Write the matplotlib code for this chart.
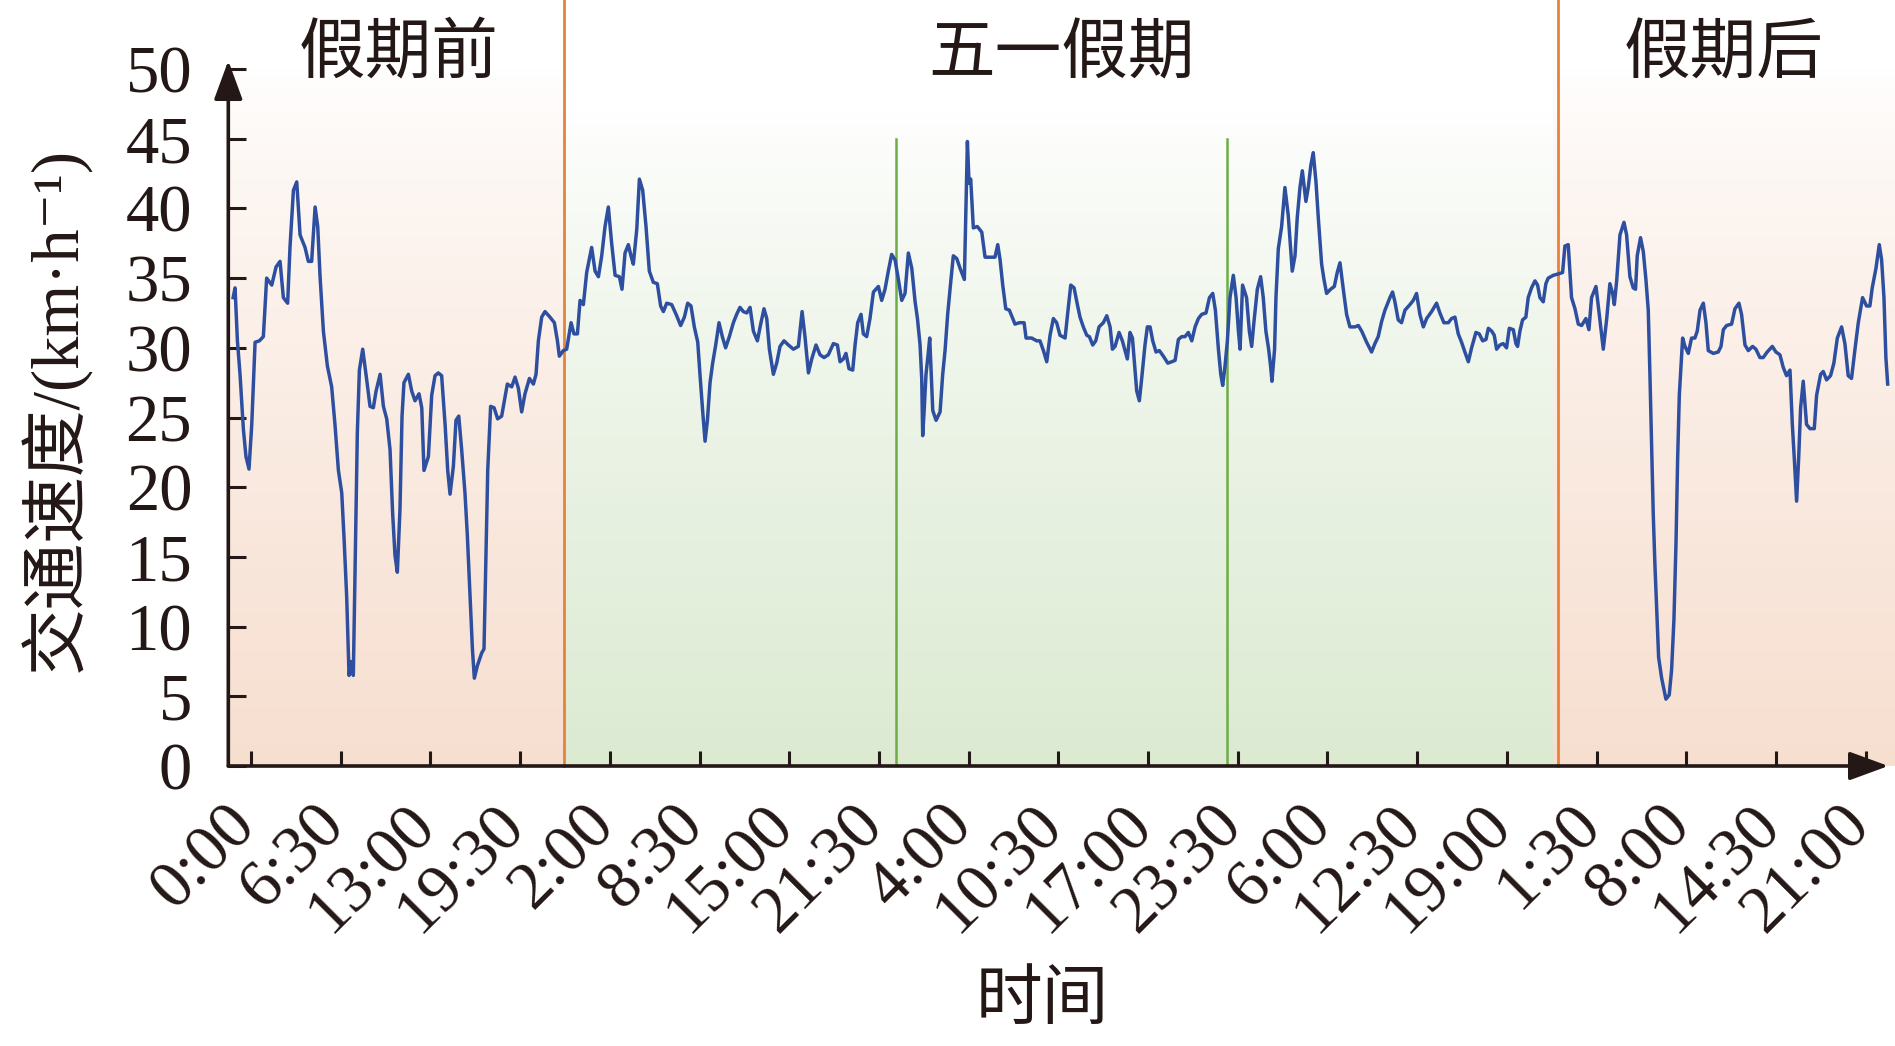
import numpy as np
import matplotlib
matplotlib.use("Agg")
import matplotlib.pyplot as plt
from matplotlib import transforms
from matplotlib.colors import to_rgb

plt.rcParams['font.family'] = ['Liberation Serif', 'Noto Sans CJK SC', 'DejaVu Sans']

# 读图得到的折线顶点（小时, km/h）
hours = [
    0.00, 0.14, 0.31, 0.50, 0.74, 0.93, 1.15, 1.35, 1.59, 1.90, 2.19, 2.43, 2.80, 3.11, 3.40, 3.64,
    3.95, 4.12, 4.37, 4.61, 4.85, 5.21, 5.45, 5.69, 5.94, 6.13, 6.30, 6.54, 6.83, 7.14, 7.38, 7.63,
    7.87, 8.04, 8.23, 8.40, 8.54, 8.71, 8.83, 9.00, 9.15, 9.39, 9.68, 9.92, 10.16, 10.36, 10.65, 10.89,
    11.13, 11.37, 11.56, 11.73, 11.90, 12.09, 12.24, 12.38, 12.70, 12.94, 13.18, 13.47, 13.67, 13.83,
    14.15, 14.39, 14.63, 14.87, 15.11, 15.36, 15.55, 15.72, 15.96, 16.15, 16.35, 16.56, 16.80, 16.97,
    17.17, 17.34, 17.48, 17.70, 18.01, 18.18, 18.30, 18.45, 18.66, 18.91, 19.17, 19.46, 19.87, 20.19,
    20.43, 20.67, 20.91, 21.15, 21.47, 21.76, 21.95, 22.12, 22.36, 22.60, 22.96, 23.28, 23.50, 23.64,
    23.93,
    24.17, 24.49, 24.70, 24.95, 25.14, 25.38, 25.62, 25.98, 26.23, 26.47, 26.71, 26.95, 27.19, 27.43,
    27.68, 27.99, 28.18, 28.40, 28.64, 28.83, 29.00, 29.25, 29.44, 29.68, 29.92, 30.16, 30.45, 30.74,
    30.98, 31.18, 31.42, 31.78, 32.10, 32.43, 32.70, 32.94, 33.18, 33.42, 33.67, 33.83, 34.03, 34.20,
    34.37, 34.56, 34.75, 34.97, 35.21, 35.45, 35.69, 35.96, 36.25, 36.49, 36.73, 36.97, 37.22, 37.46,
    37.70, 37.99, 38.23, 38.47, 38.67, 38.86, 39.15, 39.39, 39.63, 39.92, 40.24, 40.60, 40.96, 41.08,
    41.23, 41.44, 41.69, 41.93, 42.24, 42.53, 42.82, 43.13, 43.50, 43.79, 43.98, 44.22, 44.41, 44.63,
    44.90, 45.07, 45.26, 45.50, 45.67, 45.91, 46.15, 46.40, 46.76, 47.00, 47.24, 47.48, 47.72, 47.97,
    48.21,
    48.45, 48.69, 48.93, 49.18, 49.42, 49.59, 49.78, 49.90, 49.97, 50.07, 50.21, 50.36, 50.48, 50.58,
    50.70, 50.94, 51.23, 51.42, 51.59, 51.78, 52.00, 52.19, 52.44, 52.68, 52.99, 53.09, 53.21, 53.33,
    53.45, 53.64, 53.93, 54.25, 54.49, 54.85, 55.21, 55.41, 55.58, 55.77, 55.99, 56.25, 56.66, 56.98,
    57.32, 57.46, 57.87, 58.23, 58.47, 58.72, 58.96, 59.20, 59.44, 59.68, 59.92, 60.29, 60.48, 60.70,
    60.94, 61.18, 61.37, 61.61, 61.86, 62.05, 62.29, 62.51, 62.75, 63.06, 63.31, 63.55, 63.72, 63.91,
    64.20, 64.44, 64.63, 64.80, 64.99, 65.17, 65.31, 65.48, 65.67, 65.84, 66.08, 66.25, 66.45, 66.64,
    66.88, 67.12, 67.41, 67.73, 68.02, 68.26, 68.50, 68.74, 68.98, 69.22, 69.47, 69.71, 69.95, 70.19,
    70.50, 70.75, 70.99, 71.18, 71.40, 71.57, 71.71, 71.88, 72.05, 72.24, 72.48, 72.68, 72.85,
    72.97, 73.15, 73.44, 73.64, 73.81, 73.97, 74.22, 74.46, 74.65, 74.84, 75.04, 75.18, 75.28, 75.47,
    75.57, 75.74, 75.98, 76.22, 76.46, 76.58, 76.75, 76.95, 77.11, 77.31, 77.48, 77.62, 77.74, 77.91,
    78.10, 78.27, 78.47, 78.64, 78.88, 79.05, 79.24, 79.53, 79.80, 80.01, 80.21, 80.45, 80.69, 80.93,
    81.29, 81.54, 81.78, 82.14, 82.50, 82.74, 82.98, 83.23, 83.47, 83.83, 84.02, 84.19, 84.43, 84.67,
    84.92, 85.28, 85.52, 85.76, 86.00, 86.25, 86.49, 86.85, 87.21, 87.45, 87.74, 88.06, 88.30, 88.54,
    88.78, 89.02, 89.26, 89.51, 89.75, 90.06, 90.30, 90.55, 90.79, 90.96, 91.20, 91.39, 91.56, 91.80,
    92.04, 92.28, 92.48, 92.77, 92.96, 93.08, 93.25, 93.44, 93.68, 93.85, 94.09, 94.34, 94.53, 94.70,
    94.94, 95.13, 95.30, 95.67, 96.03,
    96.34, 96.51, 96.75, 96.99, 97.24, 97.48, 97.72, 98.03, 98.25, 98.44, 98.76, 99.00, 99.29, 99.53,
    99.77, 99.97, 100.09, 100.26, 100.50, 100.79, 100.98, 101.22, 101.46, 101.63, 101.75, 101.99,
    102.19, 102.38, 102.55, 102.67, 102.79, 102.91, 103.03, 103.15, 103.30, 103.52, 103.83, 104.07,
    104.24, 104.41, 104.56, 104.68, 104.80, 104.92, 105.04, 105.21, 105.45, 105.69, 105.93, 106.10,
    106.30, 106.54, 106.73, 106.90, 107.26, 107.62, 107.82, 107.99, 108.23, 108.59, 108.83, 109.12,
    109.31, 109.56, 109.80, 110.11, 110.35, 110.64, 110.88, 111.17, 111.54, 111.80, 112.09, 112.33,
    112.57, 112.82, 112.99, 113.13, 113.30, 113.45, 113.59, 113.78, 114.02, 114.27, 114.58, 114.75,
    115.04, 115.23, 115.47, 115.76, 116.00, 116.25, 116.56, 116.80, 117.04, 117.28, 117.53, 117.77,
    118.08, 118.37, 118.61, 118.78, 119.05, 119.29, 119.46, 119.63, 119.77, 119.90,
]

speed = [
    33.6, 34.3, 30.5, 28.1, 24.2, 22.2, 21.3, 24.5, 30.4, 30.5, 30.8, 35.0, 34.5, 35.8, 36.2, 33.6,
    33.2, 37.2, 41.3, 41.9, 38.1, 37.2, 36.2, 36.2, 40.1, 38.7, 35.1, 31.2, 28.7, 27.2, 24.5, 21.2,
    19.6, 16.3, 12.1, 6.5, 7.5, 6.5, 13.9, 23.9, 28.4, 29.9, 27.7, 25.8, 25.7, 26.9, 28.1, 25.8,
    24.9, 22.7, 18.1, 15.1, 13.9, 18.4, 25.1, 27.5, 28.1, 26.9, 26.2, 26.7, 25.7, 21.2,
    22.2, 26.6, 28.0, 28.2, 28.0, 24.5, 21.2, 19.5, 21.5, 24.8, 25.1, 22.7, 19.6, 16.6,
    12.1, 8.4, 6.3, 7.2, 8.1, 8.4, 14.2, 21.2, 25.8, 25.7, 24.9, 25.1, 27.4, 27.2,
    27.9, 27.1, 25.4, 26.7, 27.8, 27.4, 28.1, 30.5, 32.2, 32.6, 32.2, 31.8, 30.5, 29.4,
    29.8,
    29.9, 31.8, 31.0, 31.0, 33.4, 33.1, 35.4, 37.2, 35.5, 35.1, 36.6, 38.7, 40.1, 37.5,
    35.2, 35.1, 34.2, 36.8, 37.4, 36.6, 36.0, 38.5, 42.1, 41.3, 38.7, 35.5, 34.7, 34.6,
    33.0, 32.6, 33.2, 33.1, 32.4, 31.6, 32.2, 33.2, 33.0, 31.5, 30.4, 28.1, 25.4, 23.3,
    24.8, 27.5, 28.9, 30.2, 31.8, 30.8, 30.0, 30.8, 31.8, 32.4, 32.9, 32.6, 32.5, 32.9,
    31.2, 30.5, 31.7, 32.8, 32.1, 29.9, 28.1, 28.9, 30.1, 30.5, 30.2, 29.9, 30.1, 31.2,
    32.6, 30.8, 28.2, 29.2, 30.2, 29.5, 29.3, 29.5, 30.3, 30.2, 29.0, 29.2, 29.6, 28.5,
    28.4, 30.2, 31.8, 32.4, 31.0, 30.8, 32.1, 34.0, 34.4, 33.4, 34.2, 35.5, 36.7, 36.3,
    34.9,
    33.4, 33.9, 36.8, 35.7, 33.3, 32.1, 30.2, 27.8, 23.7, 25.4, 28.1, 29.5, 30.7, 28.4,
    25.5, 24.8, 25.4, 28.1, 29.8, 32.4, 34.7, 36.6, 36.4, 35.7, 34.9, 39.3, 44.8, 41.8,
    42.1, 38.6, 38.7, 38.3, 36.5, 36.5, 36.5, 37.4, 36.3, 34.5, 32.8, 32.7, 31.7, 31.8,
    31.8, 30.7, 30.7, 30.5, 30.5, 29.8, 29.0, 30.9, 32.1, 31.8, 30.9, 30.7, 32.5, 34.5,
    34.3, 33.1, 32.2, 31.5, 30.9, 30.8, 30.2, 30.5, 31.5, 31.8, 32.3, 31.5, 29.9, 30.1,
    31.1, 30.5, 29.8, 29.2, 31.1, 30.7, 29.0, 26.9, 26.2, 27.8, 30.2, 31.5, 31.5, 30.5,
    29.7, 29.8, 29.4, 28.9, 29.0, 29.1, 30.6, 30.8, 30.8, 31.1, 30.5, 31.5, 32.1, 32.4,
    32.5, 33.6, 33.9, 32.7, 29.9, 28.1, 27.3, 28.7, 30.5, 33.6, 35.2, 33.6, 31.2,
    29.9, 34.5, 33.6, 31.2, 30.1, 31.8, 34.2, 35.1, 33.6, 31.2, 29.9, 28.7, 27.6, 29.9,
    33.6, 37.1, 38.7, 41.5, 39.5, 37.8, 35.5, 36.6, 39.3, 41.5, 42.7, 41.5, 40.5, 41.5,
    43.1, 44.0, 41.9, 39.3, 36.0, 34.9, 33.9, 34.2, 34.4, 35.4, 36.1, 34.2, 32.4, 31.5,
    31.5, 31.6, 31.2, 30.4, 29.7, 30.3, 30.8, 31.9, 32.7, 33.6, 34.0, 33.3, 32.0, 31.8,
    32.7, 33.1, 33.4, 33.9, 32.4, 31.5, 32.1, 32.6, 33.2, 32.5, 31.8, 31.8, 32.1, 32.2,
    31.0, 30.4, 29.7, 29.0, 30.0, 31.1, 31.0, 30.5, 30.6, 31.4, 31.2, 30.9, 29.9, 30.2,
    30.3, 30.0, 31.4, 31.3, 30.3, 30.1, 31.2, 32.0, 32.2, 33.6, 34.3, 34.8, 34.5, 33.6,
    33.3, 34.6, 35.0, 35.2, 35.3,
    35.4, 37.3, 37.4, 33.6, 32.8, 31.7, 31.6, 32.1, 31.3, 33.6, 34.4, 32.4, 29.9, 32.0,
    34.6, 33.9, 33.1, 34.8, 38.1, 39.0, 38.1, 35.1, 34.3, 34.2, 36.6, 37.9,
    36.9, 34.9, 32.7, 28.1, 23.0, 18.1, 14.5, 11.5, 7.8, 6.3, 4.8, 5.1,
    6.9, 10.5, 16.0, 22.1, 26.6, 28.7, 30.7, 30.1, 29.6, 30.7, 30.7, 31.2,
    32.7, 33.2, 31.8, 29.8, 29.6, 29.7, 30.1, 31.3, 31.6, 31.7, 32.8, 33.2,
    32.4, 30.2, 29.8, 30.1, 29.9, 29.3, 29.3, 29.7, 30.1, 29.7, 29.5, 28.6,
    28.0, 28.4, 24.5, 22.1, 19.0, 22.1, 25.7, 27.6, 24.5, 24.2, 24.2, 26.6,
    28.1, 28.3, 27.7, 28.0, 28.9, 30.7, 31.5, 30.3, 28.0, 27.8, 29.9, 31.8,
    33.6, 33.0, 33.0, 34.3, 35.7, 37.4, 36.3, 33.6, 29.3, 27.4,
]

tick_labels = ['0:00', '6:30', '13:00', '19:30', '2:00', '8:30', '15:00', '21:30', '4:00',
               '10:30', '17:00', '23:30', '6:00', '12:30', '19:00', '1:30', '8:00', '14:30', '21:00']
period_names = ['假期前', '五一假期', '假期后']
period_edges = [0, 24, 96, 120]
day_lines = [48, 72]

ink = '#231815'
peach = '#F7DFD0'
green = '#DCEAD2'

fig = plt.figure(figsize=(18.95, 10.46), dpi=100)
ax = fig.add_axes([228.3 / 1895, 280 / 1046, 1 - 228.3 / 1895, 766 / 1046])
x0, x1, ytop = -0.35, 120.43, 54.95


def gradient(color, v_white, power):
    v = np.linspace(ytop, 0, 300)
    t = np.clip((v_white - v) / v_white, 0, 1) ** power
    c = np.array(to_rgb(color))
    img = 1 - t[:, None] * (1 - c[None, :])
    return img[:, None, :]


ax.imshow(gradient(peach, 50, 0.75), extent=[x0, period_edges[1], 0, ytop], aspect='auto', zorder=0)
ax.imshow(gradient(green, 47, 0.8), extent=[period_edges[1], 95.67, 0, ytop], aspect='auto', zorder=0)
ax.imshow(gradient(peach, 50, 0.75), extent=[95.67, x1, 0, ytop], aspect='auto', zorder=0)

for e in period_edges[1:3]:
    ax.plot([e, e], [0, ytop], color='#E8823A', lw=2.0, zorder=2, clip_on=False)
for d in day_lines:
    ax.plot([d, d], [0, 45], color='#6DAD45', lw=1.8, zorder=2)

ax.plot(hours, speed, color='#2E4F9F', lw=2.5, zorder=3)

ax.set_xlim(x0, x1)
ax.set_ylim(0, ytop)
for s in ax.spines.values():
    s.set_visible(False)

arrow = dict(arrowstyle='-|>,head_length=0.6,head_width=0.22', lw=2.6, color=ink,
             shrinkA=0, shrinkB=0, mutation_scale=40)
ax.annotate('', xy=(x0, 50.6), xytext=(x0, 0), arrowprops=arrow, annotation_clip=False, zorder=5)
ax.annotate('', xy=(119.95, 0), xytext=(x0, 0), arrowprops=arrow, annotation_clip=False, zorder=5)

ax.set_yticks(np.arange(0, 51, 5))
ax.tick_params(axis='y', direction='in', length=13, width=2.2, color=ink, labelcolor=ink,
               labelsize=48, pad=26)
tick_pos = np.arange(len(tick_labels)) * 6.5 + 1.3
ax.set_xticks(tick_pos)
ax.set_xticklabels(tick_labels)
ax.tick_params(axis='x', direction='in', length=11, width=2.2, color=ink, labelcolor=ink,
               labelsize=48, pad=20)
shift = transforms.ScaledTranslation(-27 / 100, 0, fig.dpi_scale_trans)
for lab in ax.get_xticklabels():
    lab.set_rotation(45)
    lab.set_ha('right')
    lab.set_va('top')
    lab.set_rotation_mode('anchor')
    lab.set_transform(lab.get_transform() + shift)

centers = [(period_edges[i] + period_edges[i + 1]) / 2 for i in range(3)]
for c, name in zip(centers, period_names):
    ax.text(c, 50.9, name, ha='center', va='center', fontsize=48, color=ink, zorder=6)

fig.text(1042 / 1895, 1 - 1002 / 1046, '时间', ha='center', va='center', fontsize=48, color=ink)
fig.text(55 / 1895, 1 - 409 / 1046, '交通速度/(km·h⁻¹)', rotation=90, ha='center', va='center',
         fontsize=48, color=ink)

fig.savefig('out.png', dpi=100)
